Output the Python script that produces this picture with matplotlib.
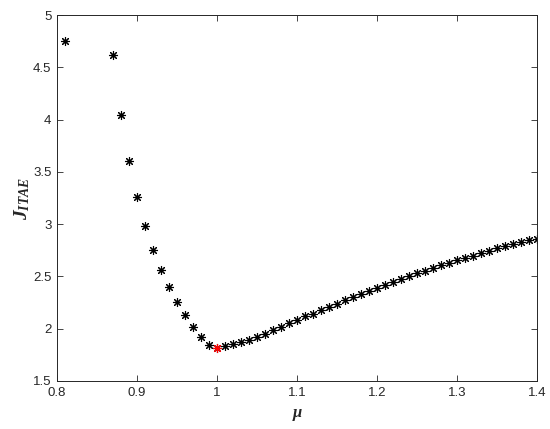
#!/usr/bin/env python3

import matplotlib
matplotlib.use('Agg')
import matplotlib.pyplot as plt

# data
mu = [0.81, 0.87, 0.88, 0.89, 0.90, 0.91, 0.92, 0.93, 0.94, 0.95, 0.96, 0.97, 0.98, 0.99,
      1.00, 1.01, 1.02, 1.03, 1.04, 1.05, 1.06, 1.07, 1.08, 1.09, 1.10, 1.11, 1.12, 1.13,
      1.14, 1.15, 1.16, 1.17, 1.18, 1.19, 1.20, 1.21, 1.22, 1.23, 1.24, 1.25, 1.26, 1.27,
      1.28, 1.29, 1.30, 1.31, 1.32, 1.33, 1.34, 1.35, 1.36, 1.37, 1.38, 1.39, 1.40]
j_itae = [4.75, 4.62, 4.04, 3.60, 3.26, 2.98, 2.75, 2.56, 2.40, 2.26, 2.13, 2.02, 1.92, 1.84,
          1.82, 1.83, 1.85, 1.87, 1.89, 1.92, 1.95, 1.985, 2.02, 2.05, 2.085, 2.12, 2.145, 2.175,
          2.21, 2.24, 2.27, 2.30, 2.33, 2.36, 2.39, 2.42, 2.45, 2.48, 2.50, 2.53, 2.555, 2.58,
          2.605, 2.63, 2.655, 2.68, 2.70, 2.725, 2.745, 2.77, 2.79, 2.81, 2.83, 2.845, 2.86]
best_mu = 1.00
best_j = 1.82


def main():
	plt.rcParams['font.family'] = ['Liberation Sans', 'DejaVu Sans']
	plt.rcParams['mathtext.fontset'] = 'custom'
	plt.rcParams['mathtext.rm'] = 'Liberation Serif:bold'
	plt.rcParams['mathtext.it'] = 'Liberation Serif:italic:bold'
	grey = '#262626'
	fig = plt.figure(figsize=(5.5, 4.29), dpi=100)
	ax = fig.add_axes([0.1036, 0.1119, 0.8728, 0.8531])
	star = (8, 2, 0)
	ax.plot(mu, j_itae, linestyle='none', marker=star, markersize=6.5,
		markeredgewidth=0.8, color='black')
	ax.plot([best_mu], [best_j], linestyle='none', marker=star, markersize=6.5,
		markeredgewidth=0.8, color='red')
	ax.set_xlim(0.8, 1.4)
	ax.set_ylim(1.5, 5)
	ax.set_xticks([0.8, 0.9, 1.0, 1.1, 1.2, 1.3, 1.4])
	ax.set_xticklabels(['0.8', '0.9', '1', '1.1', '1.2', '1.3', '1.4'])
	ax.set_yticks([1.5, 2, 2.5, 3, 3.5, 4, 4.5, 5])
	ax.set_yticklabels(['1.5', '2', '2.5', '3', '3.5', '4', '4.5', '5'])
	ax.tick_params(direction='in', top=True, right=True, length=4, width=0.6,
		labelsize=9.5, colors=grey, pad=4)
	for s in ax.spines.values():
		s.set_color(grey)
		s.set_linewidth(0.7)
	ax.set_xlabel('μ', fontsize=12, fontstyle='italic', fontweight='bold',
		color=grey, family='Liberation Serif', labelpad=5)
	ax.set_ylabel('$J_{ITAE}$', fontsize=14, color=grey, labelpad=1)
	fig.savefig('out.png', dpi=100)


if __name__ == '__main__':
	main()
